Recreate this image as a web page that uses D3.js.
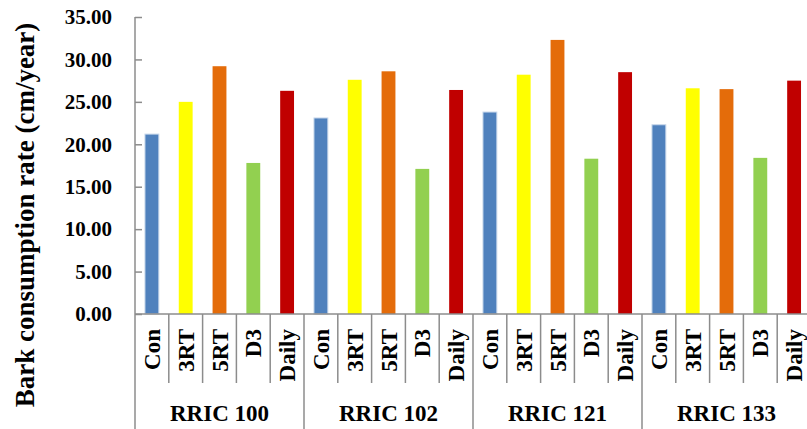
<!DOCTYPE html>
<html>
<head>
<meta charset="utf-8">
<script src="https://cdn.jsdelivr.net/npm/d3@7"></script>
<style>
  body { margin: 0; background: #fff; }
  text { font-family: "Liberation Serif", "Times New Roman", serif; font-weight: bold; fill: #000; }
</style>
</head>
<body>
<div id="chart"></div>
<script>
// Data
const clones = ["RRIC 100", "RRIC 102", "RRIC 121", "RRIC 133"];
const treatments = ["Con", "3RT", "5RT", "D3", "Daily"];
const treatmentColors = ["#4F81BD", "#FFFF00", "#E46C0A", "#92D050", "#C00000"];
const rric100 = [21.2, 25.0, 29.2, 17.8, 26.3];
const rric102 = [23.1, 27.6, 28.6, 17.1, 26.4];
const rric121 = [23.8, 28.2, 32.3, 18.3, 28.5];
const rric133 = [22.3, 26.6, 26.5, 18.4, 27.5];
const yTicks = [0, 5, 10, 15, 20, 25, 30, 35];

const seriesByClone = [rric100, rric102, rric121, rric133];

const width = 807;
const height = 429;
const plotLeft = 135, plotRight = 811, plotTop = 17, plotBottom = 314;
const axisColor = "#8c8c8c";

// flat rows, one per bar
const rows = [];
clones.forEach((c, gi) => {
    treatments.forEach((t, ti) => {
        rows.push({ clone: c, treatment: t, ti: ti, value: seriesByClone[gi][ti], key: c + "|" + t });
    });
});

const svg = d3.select("#chart").append("svg")
    .attr("width", width)
    .attr("height", height);

const x = d3.scaleBand()
    .domain(rows.map(d => d.key))
    .range([plotLeft, plotRight])
    .padding(0);

const xGroup = d3.scaleBand()
    .domain(clones)
    .range([plotLeft, plotRight])
    .padding(0);

const y = d3.scaleLinear()
    .domain([0, 35])
    .range([plotBottom, plotTop]);

// bars
const barW = x.bandwidth() * 0.41;
svg.append("g")
    .selectAll("rect")
    .data(rows)
    .enter().append("rect")
    .attr("x", d => x(d.key) + (x.bandwidth() - barW) / 2)
    .attr("y", d => y(d.value))
    .attr("width", barW)
    .attr("height", d => y(0) - y(d.value))
    .attr("fill", d => treatmentColors[d.ti])
    .attr("stroke", d => d.ti === 0 ? "#c6d6ea" : "none")
    .attr("stroke-width", 1);

// y axis with inward ticks
const yAxis = svg.append("g")
    .attr("transform", `translate(${plotLeft},0)`)
    .call(d3.axisLeft(y)
        .tickValues(yTicks)
        .tickFormat(d3.format(".2f"))
        .tickSizeInner(-7)
        .tickSizeOuter(0)
        .tickPadding(23));
yAxis.select(".domain").remove();
yAxis.selectAll("line").attr("stroke", axisColor).attr("stroke-width", 1.5);
yAxis.selectAll("text")
    .attr("font-size", 21)
    .attr("font-family", "Liberation Serif, Times New Roman, serif")
    .attr("font-weight", "bold")
    .attr("fill", "#000");

// left axis line running down through the category area
svg.append("line")
    .attr("x1", plotLeft).attr("x2", plotLeft)
    .attr("y1", y(35)).attr("y2", height)
    .attr("stroke", axisColor).attr("stroke-width", 1.5);

// x axis baseline
svg.append("line")
    .attr("x1", plotLeft).attr("x2", plotRight)
    .attr("y1", y(0)).attr("y2", y(0))
    .attr("stroke", axisColor).attr("stroke-width", 1.5);

// separators between treatments and between clones
svg.append("g")
    .selectAll("line")
    .data(rows.slice(1))
    .enter().append("line")
    .attr("x1", d => x(d.key)).attr("x2", d => x(d.key))
    .attr("y1", y(0))
    .attr("y2", d => d.ti === 0 ? height : 383)
    .attr("stroke", axisColor).attr("stroke-width", 1.5);

// treatment labels (rotated)
svg.append("g")
    .selectAll("text")
    .data(rows)
    .enter().append("text")
    .attr("transform", d => `translate(${x(d.key) + x.bandwidth() / 2},329) rotate(-90)`)
    .attr("text-anchor", "end")
    .attr("dy", "0.35em")
    .attr("font-size", 23)
    .text(d => d.treatment);

// clone labels
svg.append("g")
    .selectAll("text")
    .data(clones)
    .enter().append("text")
    .attr("x", d => xGroup(d) + xGroup.bandwidth() / 2)
    .attr("y", 421)
    .attr("text-anchor", "middle")
    .attr("font-size", 23)
    .text(d => d);

// y axis title
svg.append("text")
    .attr("transform", "translate(25,215) rotate(-90)")
    .attr("text-anchor", "middle")
    .attr("dy", "0.35em")
    .attr("font-size", 27)
    .text("Bark consumption rate (cm/year)");
</script>
</body>
</html>
